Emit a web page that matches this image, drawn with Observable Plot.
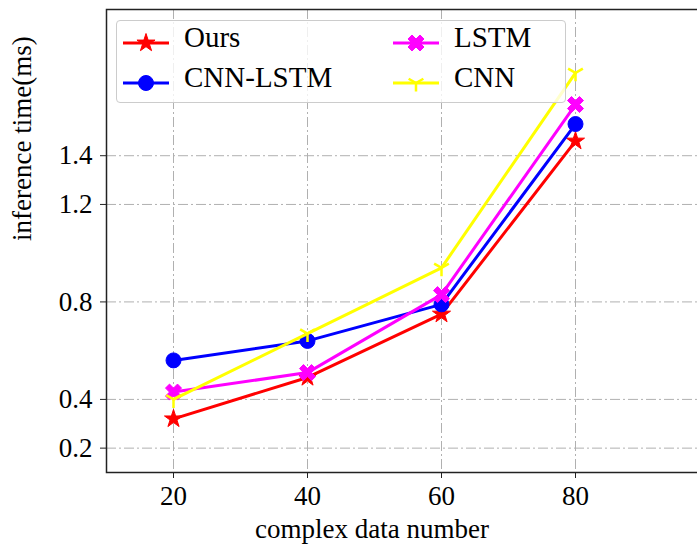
<!DOCTYPE html>
<html>
<head>
<meta charset="utf-8">
<script src="https://cdn.jsdelivr.net/npm/d3@7"></script>
<script src="https://cdn.jsdelivr.net/npm/@observablehq/plot@0.6"></script>
<style>
  body { margin: 0; background: #fff; }
  #wrap { position: relative; width: 697px; height: 551px; overflow: hidden; font-family: "Liberation Serif", "Times New Roman", serif; }
  #wrap svg.plot { display: block; }
  #legend { position: absolute; left: 116px; top: 20px; width: 450px; height: 83px; box-sizing: border-box;
            border: 1px solid #cccccc; border-radius: 4px; background: rgba(255,255,255,0.8); }
  .entry { position: absolute; height: 40px; }
  .entry svg { position: absolute; left: 0; top: 0; overflow: visible; }
  .entry span { position: absolute; white-space: nowrap; font-size: 29px; line-height: 1; color: #000; }
</style>
</head>
<body>
<div id="wrap"></div>
<script>
// ---- data ----
const xValues = [20, 40, 60, 80];
const seriesNames = ["Ours", "CNN-LSTM", "LSTM", "CNN"];
const oursValues = [0.32, 0.49, 0.75, 1.46];
const cnnLstmValues = [0.56, 0.64, 0.79, 1.53];
const lstmValues = [0.43, 0.51, 0.83, 1.61];
const cnnValues = [0.40, 0.67, 0.94, 1.74];
const xTickValues = [20, 40, 60, 80];
const yTickValues = [0.2, 0.4, 0.8, 1.2, 1.4];
const xLabel = "complex data number";
const yLabel = "inference time(ms)";

// ---- custom marker symbols ----
const starSymbol = { draw(ctx, size) {
  const R = Math.sqrt(size / Math.PI), r = R * 0.382;
  for (let i = 0; i < 10; i++) {
    const a = -Math.PI / 2 + i * Math.PI / 5, rr = i % 2 ? r : R;
    const px = rr * Math.cos(a), py = rr * Math.sin(a);
    i ? ctx.lineTo(px, py) : ctx.moveTo(px, py);
  }
  ctx.closePath();
}};
const circleSymbol = { draw(ctx, size) {
  const R = Math.sqrt(size / Math.PI);
  ctx.moveTo(R, 0); ctx.arc(0, 0, R, 0, 2 * Math.PI); ctx.closePath();
}};
const xSymbol = { draw(ctx, size) {
  const a = Math.sqrt(size / Math.PI), b = a / 3;
  const pts = [[-a,-b],[-b,-b],[-b,-a],[b,-a],[b,-b],[a,-b],[a,b],[b,b],[b,a],[-b,a],[-b,b],[-a,b]];
  const c = Math.SQRT1_2;
  pts.forEach(([px, py], i) => {
    const qx = c * (px - py), qy = c * (px + py);
    i ? ctx.lineTo(qx, qy) : ctx.moveTo(qx, qy);
  });
  ctx.closePath();
}};
const triDownSymbol = { draw(ctx, size) {
  const R = Math.sqrt(size / Math.PI);
  ctx.moveTo(0, 0); ctx.lineTo(0, R);
  ctx.moveTo(0, 0); ctx.lineTo(-R * 0.866, -R * 0.5);
  ctx.moveTo(0, 0); ctx.lineTo(R * 0.866, -R * 0.5);
}};

const valuesBySeries = [oursValues, cnnLstmValues, lstmValues, cnnValues];
const styles = [
  { color: "#ff0000", symbol: starSymbol, r: 9.5, filled: true },
  { color: "#0000ff", symbol: circleSymbol, r: 7.5, filled: true },
  { color: "#ff00ff", symbol: xSymbol, r: 8.5, filled: true },
  { color: "#ffff00", symbol: triDownSymbol, r: 8.5, filled: false }
];

const rows = seriesNames.map((name, s) =>
  xValues.map((x, i) => ({ series: name, x, y: valuesBySeries[s][i] })));

const fontStack = "'Liberation Serif', 'Times New Roman', serif";
const marks = [
  Plot.gridX({ ticks: xTickValues, stroke: "#b0b0b0", strokeOpacity: 1, strokeWidth: 1, strokeDasharray: "10,3,2,3" }),
  Plot.gridY({ ticks: yTickValues, stroke: "#b0b0b0", strokeOpacity: 1, strokeWidth: 1, strokeDasharray: "10,3,2,3" }),
  Plot.axisX({ ticks: xTickValues, tickSize: 6, tickPadding: 7, label: null, fontSize: 27, stroke: "#222" }),
  Plot.axisY({ ticks: yTickValues, tickSize: 6, tickPadding: 8, label: null, fontSize: 27, stroke: "#222" }),
];
rows.forEach((data, s) => {
  const st = styles[s];
  marks.push(Plot.line(data, { x: "x", y: "y", stroke: st.color, strokeWidth: 3 }));
  marks.push(Plot.dot(data, { x: "x", y: "y", symbol: st.symbol, r: st.r,
    fill: st.filled ? st.color : "none", stroke: st.color, strokeWidth: st.filled ? 1 : 2.5 }));
});
marks.push(Plot.frame({ stroke: "#222", strokeWidth: 1.5 }));
marks.push(Plot.text([xLabel], { text: d => d, frameAnchor: "bottom", dx: -36, dy: 57, fontSize: 27, lineAnchor: "middle" }));
marks.push(Plot.text([yLabel], { text: d => d, frameAnchor: "left", dx: -84, rotate: -90, fontSize: 27, lineAnchor: "middle" }));

const chart = Plot.plot({
  width: 697,
  height: 551,
  marginLeft: 106,
  marginRight: -12,
  marginTop: 9,
  marginBottom: 79,
  x: { domain: [10, 100] },
  y: { domain: [0.1, 2.0] },
  style: { fontFamily: fontStack, color: "#000", background: "#fff", overflow: "hidden" },
  marks
});
chart.classList.add("plot");
const wrap = document.getElementById("wrap");
wrap.appendChild(chart);

// ---- legend ----
const legend = document.createElement("div");
legend.id = "legend";
wrap.appendChild(legend);
const legendPos = [[6, 22], [6, 62], [276, 22], [276, 62]]; // column-major like the source
seriesNames.forEach((name, s) => {
  const st = styles[s];
  const e = document.createElement("div");
  e.className = "entry";
  e.style.left = legendPos[s][0] + "px";
  e.style.top = (legendPos[s][1] - 20) + "px";
  const svg = d3.create("svg").attr("width", 50).attr("height", 40);
  svg.append("line").attr("x1", 0).attr("x2", 46).attr("y1", 20).attr("y2", 20)
     .attr("stroke", st.color).attr("stroke-width", 3);
  svg.append("path").attr("transform", "translate(23,20)")
     .attr("d", d3.symbol(st.symbol, st.r * st.r * Math.PI)())
     .attr("fill", st.filled ? st.color : "none").attr("stroke", st.color)
     .attr("stroke-width", st.filled ? 1 : 2.5);
  e.appendChild(svg.node());
  const t = document.createElement("span");
  t.textContent = name;
  t.style.left = "61px";
  t.style.top = "0px";
  e.appendChild(t);
  legend.appendChild(e);
});
</script>
</body>
</html>
